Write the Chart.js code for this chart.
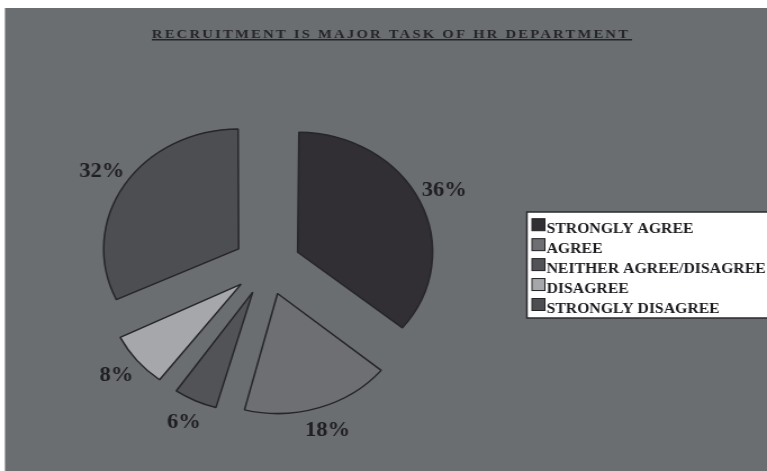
<!DOCTYPE html>
<html><head><meta charset="utf-8">
<script src="https://cdn.jsdelivr.net/npm/chart.js@4"></script>
<style>
html,body{margin:0;padding:0;background:#fff;overflow:hidden}
#wrap{position:absolute;left:0;top:0;width:682px;height:471px;transform:scaleX(1.12463);transform-origin:0 0}
canvas{display:block}
</style></head><body>
<div id="wrap"><canvas id="c" width="682" height="471"></canvas></div>
<script>
const chartTitle = 'RECRUITMENT IS MAJOR TASK OF HR DEPARTMENT';
const categories = ['STRONGLY AGREE', 'AGREE', 'NEITHER AGREE/DISAGREE', 'DISAGREE', 'STRONGLY DISAGREE'];
const percentages = [36, 18, 6, 8, 32];
const sliceColors = ['#312f34', '#6d6f72', '#525357', '#a6a7aa', '#4d4e52'];

const PIE_RADIUS = 120;
const EXPLODE = 120; // Chart.js translates each arc by offset/4

const bgPlugin = {
  id: 'bg',
  beforeDraw(chart) {
    const ctx = chart.ctx;
    ctx.save();
    ctx.fillStyle = '#ffffff';
    ctx.fillRect(0, 0, chart.width, chart.height);
    ctx.fillStyle = '#6b6e71';
    ctx.fillRect(4.4, 8, chart.width, chart.height);
    ctx.restore();
  }
};

// keep every exploded slice at the same visible radius
const radiusPlugin = {
  id: 'radiusFix',
  afterDatasetUpdate(chart, args) {
    args.meta.data.forEach(arc => {
      const off = (arc.options.offset || 0) / 4;
      const fix = 1 - Math.sin(Math.min(Math.PI, arc.circumference || 0));
      arc.outerRadius = PIE_RADIUS - off * fix;
    });
  }
};

const textPlugin = {
  id: 'texts',
  afterDatasetsDraw(chart) {
    const ctx = chart.ctx;
    ctx.save();
    ctx.font = 'bold 20px "Liberation Serif"';
    ctx.fillStyle = '#1f1f23';
    ctx.textAlign = 'center';
    ctx.textBaseline = 'middle';
    const meta = chart.getDatasetMeta(0);
    meta.data.forEach((arc, i) => {
      const p = arc.getProps(['x', 'y', 'startAngle', 'endAngle'], true);
      const mid = (p.startAngle + p.endAngle) / 2;
      const r = (arc.options.offset || 0) / 4 + PIE_RADIUS + 24;
      ctx.fillText(percentages[i] + '%', p.x + Math.cos(mid) * r, p.y + Math.sin(mid) * r);
    });
    ctx.restore();

    // title
    ctx.save();
    ctx.font = 'bold 13px "Liberation Serif"';
    ctx.fillStyle = '#252528';
    ctx.textAlign = 'left';
    ctx.textBaseline = 'alphabetic';
    try { ctx.letterSpacing = '2px'; } catch (e) {}
    ctx.fillText(chartTitle, 135, 37.5);
    ctx.restore();
    ctx.save();
    ctx.strokeStyle = '#252528';
    ctx.lineWidth = 1.5;
    ctx.beginPath();
    ctx.moveTo(135, 39.8);
    ctx.lineTo(562, 39.8);
    ctx.stroke();
    ctx.restore();

    // legend
    ctx.save();
    ctx.fillStyle = '#ffffff';
    ctx.strokeStyle = '#2b2b2f';
    ctx.lineWidth = 1.5;
    ctx.fillRect(468.5, 212, 240, 106);
    ctx.strokeRect(468.5, 212, 240, 106);
    ctx.font = 'bold 14px "Liberation Serif"';
    ctx.textAlign = 'left';
    ctx.textBaseline = 'alphabetic';
    categories.forEach((c, i) => {
      const cy = 227.7 + i * 19.95;
      ctx.fillStyle = sliceColors[i];
      ctx.fillRect(473, cy - 9, 11.5, 12);
      ctx.strokeStyle = '#222225';
      ctx.lineWidth = 1;
      ctx.strokeRect(473, cy - 9, 11.5, 12);
      ctx.fillStyle = '#1d1d21';
      ctx.fillText(c, 486, cy + 5);
    });
    ctx.restore();
  }
};

new Chart(document.getElementById('c'), {
  type: 'pie',
  data: {
    labels: categories,
    datasets: [{
      data: percentages,
      backgroundColor: sliceColors,
      borderColor: '#26262a',
      borderWidth: 1.5,
      offset: EXPLODE,
      hoverOffset: 0
    }]
  },
  options: {
    responsive: false,
    devicePixelRatio: 1,
    animation: false,
    events: [],
    radius: PIE_RADIUS,
    layout: { padding: { left: 0, right: 207, top: 59, bottom: 0 } },
    plugins: { legend: { display: false }, tooltip: { enabled: false }, title: { display: false } }
  },
  plugins: [bgPlugin, radiusPlugin, textPlugin]
});
</script>
</body></html>
